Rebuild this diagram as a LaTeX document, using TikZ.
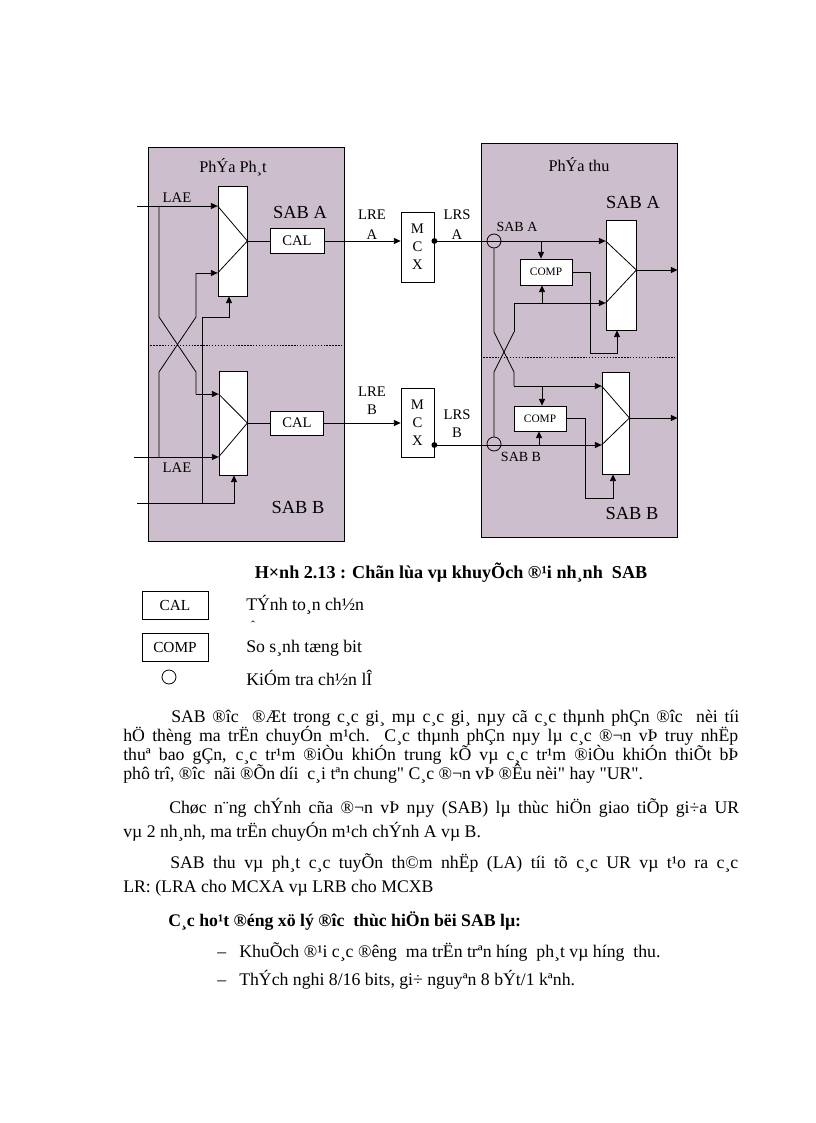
\documentclass[tikz,border=0pt]{standalone}
\usepackage{fontspec}
\setmainfont{Liberation Serif}
\newfontfamily\qf{Liberation Serif}
\usetikzlibrary{arrows.meta}
\definecolor{panelfill}{RGB}{204,190,204}
\newcommand\dq{{\qf"}}
\begin{document}
\begin{tikzpicture}[x=0.75pt,y=-0.75pt,
  wire/.style={line width=0.6pt},
  arr/.style={wire,-{Triangle[length=5pt,width=4.5pt]}},
  panel/.style={draw,fill=panelfill,line width=0.7pt,minimum width=147pt,minimum height=295.5pt,inner sep=0},
  mux/.style={draw,fill=white,line width=0.6pt,inner sep=0},
  blk/.style={draw,fill=white,line width=0.6pt,inner sep=0},
  chk/.style={draw,circle,line width=0.6pt,minimum size=10.5pt,inner sep=0},
  lbl/.style={font=\fontsize{11}{12}\selectfont,inner sep=0},
  big/.style={font=\fontsize{13.8}{15}\selectfont,inner sep=0},
  ttl/.style={font=\fontsize{12.2}{13}\selectfont,inner sep=0},
  small/.style={font=\fontsize{10.5}{11}\selectfont,inner sep=0},
  cmp/.style={font=\fontsize{8.5}{9}\selectfont},
  body/.style={font=\fontsize{13.3}{16}\selectfont,inner sep=0,anchor=base west},
  sep/.style={line width=0.5pt,dash pattern=on 1pt off 1.2pt}
]
\fill[white] (0,0) rectangle (816,1123);
\useasboundingbox (0,0) rectangle (816,1123);

% panels
\node[panel] (tx) at (246,344) {};
\node[panel] (rx) at (579,340) {};
\draw[sep] (tx.west |- 0,345) -- (tx.east |- 0,345);
\draw[sep] (rx.west |- 0,357) -- (rx.east |- 0,357);

% titles and labels
\node[ttl] (txT) at (233,167) {PhÝa Ph¸t};
\node[ttl] (rxT) at (579,165) {PhÝa thu};
\node[big] (sabA1) at (300,212) {SAB A};
\node[big] (sabB1) at (298,507) {SAB B};
\node[big] (sabA2) at (633,202) {SAB A};
\node[big] (sabB2) at (632,513) {SAB B};
\node[lbl] (laeA) at (177,198) {LAE};
\node[lbl] (laeB) at (177,468) {LAE};

% left blocks
\node[mux, minimum width=21.75pt, minimum height=82.5pt] (muxA) at (232.5,241) {};
\node[mux, minimum width=21pt, minimum height=78pt] (muxB) at (233,423) {};
\node[blk, lbl, minimum width=40.5pt, minimum height=18.75pt] (calA) at (297,241) {CAL};
\node[blk, lbl, minimum width=39.75pt, minimum height=18pt] (calB) at (297,423) {CAL};

% middle
\node[blk, lbl, align=center, minimum width=24.75pt, minimum height=52.5pt] (mcxA) at (417.5,247) {M\\[1.5pt]C\\[1.5pt]X};
\node[blk, lbl, align=center, minimum width=24.75pt, minimum height=51.75pt] (mcxB) at (417.5,422.5) {M\\[1.5pt]C\\[1.5pt]X};
\node[lbl, align=center] (lreA) at (372,225) {LRE\\[3pt]A};
\node[lbl, align=center] (lrsA) at (457,225) {LRS\\[3pt]A};
\node[lbl, align=center] (lreB) at (372,401) {LRE\\[1.5pt]B};
\node[lbl, align=center] (lrsB) at (457,423.5) {LRS\\[1pt]B};

% right blocks
\node[chk] (ckA) at (494,241) {};
\node[chk] (ckB) at (494,444) {};
\node[small] (sabAs) at (517,227) {SAB A};
\node[small] (sabBs) at (521,457) {SAB B};
\node[mux, minimum width=22.5pt, minimum height=82.5pt] (rmuxA) at (621,275) {};
\node[mux, minimum width=20.25pt, minimum height=76.5pt] (rmuxB) at (615.5,423) {};
\node[blk, cmp, minimum width=39pt, minimum height=19.5pt] (compA) at (546,272) {COMP};
\node[blk, cmp, minimum width=39pt, minimum height=18.75pt] (compB) at (540,418.5) {COMP};

% left wiring
\coordinate (inA) at (137,206);
\coordinate (inB) at (134,457);
\coordinate (inC) at (137,503);
\draw[arr] (inA) -- (inA -| muxA.west);
\draw[arr] (inB) -- (inB -| muxB.west);
\draw[wire] (159,206) -- (159,317) -- (196,372) -- (196,394);
\draw[arr] (196,394) -- (muxB.west |- 0,394);
\draw[wire] (159,457) -- (159,372) -- (196,317) -- (196,273);
\draw[arr] (196,273) -- (muxA.west |- 0,273);
\draw[wire] (muxA.west |- 0,206) -- (muxA.east) -- (muxA.west |- 0,273);
\draw[wire] (muxB.west |- 0,394) -- (muxB.east) -- (muxB.west |- 0,457);
\draw[wire] (muxA.east) -- (calA.west);
\draw[wire] (muxB.east) -- (calB.west);
\draw[arr] (calA.east) -- (calA.east -| mcxA.west);
\draw[arr] (calB.east) -- (calB.east -| mcxB.west);
\draw[arr] (inC) -- (234,503) -- (234,503 |- muxB.south);
\draw[wire] (202,503) -- (202,317);
\draw[arr] (202,317) -- (229,317) -- (229,317 |- muxA.south);

% right wiring
\coordinate (oA) at (mcxA.east |- 0,241);
\coordinate (oB) at (mcxB.east |- 0,445);
\fill (oA) circle (2.2pt);
\fill (oB) circle (2.2pt);
\draw[arr] (oA) -- (oA -| rmuxA.west);
\draw[arr] (oB) -- (oB -| rmuxB.west);
\draw[wire] (rmuxA.west |- 0,241) -- (rmuxA.east |- 0,270) -- (rmuxA.west |- 0,303);
\draw[arr] (rmuxA.east |- 0,270) -- (rx.east |- 0,270);
\draw[wire] (rmuxB.west |- 0,386) -- (rmuxB.east |- 0,418) -- (rmuxB.west |- 0,445);
\draw[arr] (rmuxB.east |- 0,418) -- (rx.east |- 0,418);
\draw[arr] (541,241) -- (541,241 |- compA.north);
\draw[arr] (compA.east) -- (590,272) -- (590,353) -- (617,353) -- (617,353 |- rmuxA.south);
\draw[arr] (514,332) -- (514,303) -- (rmuxA.west |- 0,303);
\draw[arr] (542,303) -- (542,303 |- compA.south);
\draw[wire] (ckA.south) -- (494,332) -- (514,372) -- (514,386);
\draw[arr] (514,386) -- (rmuxB.west |- 0,386);
\draw[wire] (514,332) -- (494,372) -- (ckB.north);
\draw[arr] (542,386) -- (542,386 |- compB.north);
\draw[arr] (compB.east) -- (585,418.5) -- (585,498) -- (613,498) -- (613,498 |- rmuxB.south);
\draw[arr] (539,445) -- (539,445 |- compB.south);

% caption
\node[font=\bfseries\fontsize{13.6}{16}\selectfont, inner sep=0] (cap) at (451,573) {H×nh 2.13 : Chãn lùa vµ khuyÕch ®¹i nh¸nh\ \ SAB};

% legend
\node[blk, font=\fontsize{11.5}{12}\selectfont, minimum width=49.5pt, minimum height=21pt] (lgCal) at (175,605) {CAL};
\node[blk, font=\fontsize{11.5}{12}\selectfont, minimum width=49.5pt, minimum height=21pt] (lgComp) at (175,647) {COMP};
\node[chk] (lgChk) at (169,677) {};
\node[body] (lgT1) at (246,610) {TÝnh to¸n ch½n};
\node[font=\fontsize{9}{9}\selectfont, inner sep=0] (lgCaret) at (253,625) {ˆ};
\node[body] (lgT2) at (246,652) {So s¸nh tæng bit};
\node[body] (lgT3) at (246,685) {KiÓm tra ch½n lÎ};

% body text
\node[body] (p1a) at (171,722) {\makebox[426pt][s]{SAB ®îc\ \ ®Æt trong c¸c gi¸ mµ c¸c gi¸ nµy cã c¸c thµnh phÇn ®îc\ \ nèi tíi}};
\node[body] (p1b) at (123,741) {\makebox[461.25pt][s]{hÖ thèng ma trËn chuyÓn m¹ch. C¸c thµnh phÇn nµy lµ c¸c ®¬n vÞ truy nhËp}};
\node[body] (p1c) at (123,760) {\makebox[461.25pt][s]{thuª bao gÇn, c¸c tr¹m ®iÒu khiÓn trung kÕ vµ c¸c tr¹m ®iÒu khiÓn thiÕt bÞ}};
\node[body] (p1d) at (123,779) {phô trî, ®îc\ \ nãi ®Õn díi\ \ c¸i tªn chung\dq{} C¸c ®¬n vÞ ®Êu nèi\dq{} hay \dq{}UR\dq{}.};
\node[body] (p2a) at (169,813) {\makebox[427.5pt][s]{Chøc n¨ng chÝnh cña ®¬n vÞ nµy (SAB) lµ thùc hiÖn giao tiÕp gi÷a UR}};
\node[body] (p2b) at (123,837) {vµ 2 nh¸nh, ma trËn chuyÓn m¹ch chÝnh A vµ B.};
\node[body] (p3a) at (170,868) {\makebox[426pt][s]{SAB thu vµ ph¸t c¸c tuyÕn th©m nhËp (LA) tíi tõ c¸c UR vµ t¹o ra c¸c}};
\node[body] (p3b) at (123,892) {LR: (LRA cho MCXA vµ LRB cho MCXB};
\node[body, font=\bfseries\fontsize{13.3}{16}\selectfont] (p4) at (168,926) {C¸c ho¹t ®éng xö lý ®îc\ \ thùc hiÖn bëi SAB lµ:};
\node[body] (b1d) at (217,957) {–};
\node[body] (b1) at (239,957) {KhuÕch ®¹i c¸c ®êng\ \ ma trËn trªn híng\ \ ph¸t vµ híng\ \ thu.};
\node[body] (b2d) at (217,985) {–};
\node[body] (b2) at (239,985) {ThÝch nghi 8/16 bits, gi÷ nguyªn 8 bÝt/1 kªnh.};
\end{tikzpicture}
\end{document}
